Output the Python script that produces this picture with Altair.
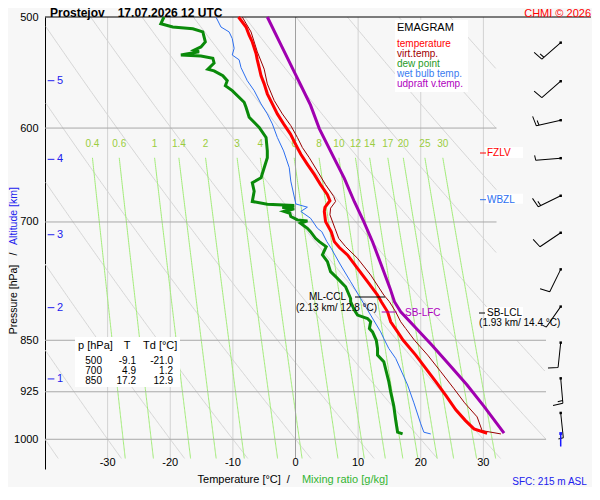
import math
import pandas as pd
import altair as alt

FONT = "Liberation Sans"

# ---------------- sounding data ----------------
temp_p = [500, 508.3, 515.2, 520.9, 530.8, 536.4, 543.3, 550.6, 558.0, 567.2, 576.7, 586.2, 595.9, 605.9, 616.0,
          626.4, 636.8, 647.4, 658.3, 669.3, 676.0, 683.5, 688.0, 699.6, 711.2, 722.9, 730.0, 738.9, 755.3, 772.1,
          789.2, 797.9, 811.2, 824.6, 838.4, 850.0, 870.9, 890.1, 909.8, 930.5, 952.8, 969.4, 983.1, 990.1]
temp_t = [-9.1, -7.9, -7.4, -6.9, -6.3, -6.1, -5.8, -5.5, -5.0, -4.5, -3.7, -2.9, -1.9, -0.8, 0.0,
          0.85, 1.9, 3.0, 4.0, 5.1, 5.5, 4.7, 4.6, 4.8, 5.7, 6.2, 7.0, 8.3, 9.9, 11.5,
          13.1, 13.7, 14.7, 15.2, 16.3, 17.2, 19.2, 20.8, 22.4, 24.0, 25.6, 27.1, 28.5, 30.6]

vtemp_p = [500, 512.4, 529.4, 544.7, 558.0, 573.5, 586.2, 597.6, 609.3, 619.5, 629.9, 643.9, 658.3, 671.2, 676.8,
           684.3, 691.8, 707.3, 719.0, 728.9, 743.0, 763.6, 789.2, 797.9, 811.2, 824.6, 833.8, 850.0, 870.9, 895.0,
           920.3, 941.9, 963.9, 985.9, 991.3]
vtemp_t = [-8.5, -7.1, -6.1, -5.0, -4.5, -3.4, -2.1, -0.75, 0.3, 1.1, 2.2, 3.5, 4.8, 6.1, 6.4,
           5.6, 5.5, 6.3, 6.9, 8.0, 9.9, 12.0, 14.1, 15.0, 16.0, 16.8, 17.6, 19.0, 21.1, 23.2,
           25.3, 27.0, 29.0, 29.8, 32.8]

dew_p = [500, 505.5, 508.3, 509.7, 512.4, 520.9, 525.2, 528.0, 529.4, 532.2, 533.0, 535.0, 539.2, 544.7, 546.2,
         550.6, 555.1, 559.6, 564.2, 575.1, 579.8, 589.4, 599.3, 609.3, 622.9, 629.9, 640.3, 651.0, 656.4, 665.6,
         676.8, 679.8, 681.3, 683.5, 685.0, 688.0, 690.0, 693.8, 697.6, 698.8, 701.5, 707.3, 711.2, 719.0, 722.9,
         728.9, 738.9, 747.1, 759.5, 767.9, 778.5, 793.6, 797.9, 808.9, 815.6, 820.2, 824.6, 833.8, 838.4, 850.0,
         861.6, 870.9, 880.5, 909.8, 925.3, 947.3, 969.4, 988.5, 991.3]
dew_t = [-21.0, -21.5, -19.6, -16.4, -14.8, -14.4, -15.1, -16.2, -15.4, -18.3, -15.1, -13.2, -13.0, -14.0, -13.0,
         -11.6, -10.9, -11.2, -10.1, -8.2, -7.9, -7.4, -5.8, -4.7, -4.5, -4.5, -5.0, -5.5, -6.9, -6.6,
         -6.9, -4.5, -0.2, -2.1, -0.2, -1.8, -0.9, -0.75, 0.3, 1.9, 0.8, 1.9, 2.4, 3.2, 3.8,
         4.9, 4.3, 5.1, 5.6, 6.7, 8.0, 8.8, 8.8, 9.4, 9.9, 11.5, 12.0, 11.8, 12.3, 12.9,
         13.1, 13.1, 14.1, 14.9, 15.2, 15.7, 16.0, 16.3, 17.1]

wet_p = [500, 508.3, 512.4, 518.0, 526.4, 532.2, 536.4, 543.3, 555.1, 564.2, 576.7, 586.2, 595.9, 609.3, 622.9,
         640.3, 654.6, 679.6, 683.2, 688.0, 695.7, 707.3, 711.2, 722.9, 730.9, 751.2, 772.1, 793.6, 815.6, 838.4,
         847.6, 861.6, 875.7, 914.8, 941.9, 975.0, 988.5, 991.3]
wet_t = [-12.7, -11.9, -10.6, -10.1, -9.8, -10.1, -9.0, -8.7, -7.7, -6.6, -5.5, -4.5, -3.7, -2.9, -1.9,
         -1.0, -0.75, 0.05, 1.9, 0.85, 2.4, 3.5, 4.2, 5.0, 5.7, 7.2, 8.8, 10.4, 12.0, 13.6,
         14.1, 14.9, 16.0, 17.9, 18.9, 20.0, 20.5, 21.6]

parcel_p = [500, 523.7, 547.2, 559.3, 577.9, 600.5, 630.8, 651.7, 677.1, 699.7, 723.1, 751.2, 780.6, 797.9,
            811.2, 833.8, 856.9, 885.2, 914.8, 947.3, 990.1]
parcel_t = [-4.5, -2.3, -0.2, 0.85, 2.4, 3.8, 6.2, 7.8, 9.4, 10.9, 12.3, 13.7, 15.1, 15.8,
            16.8, 19.3, 21.8, 24.6, 27.4, 30.1, 33.3]

# wind barbs
wind_p = [521.5, 555.6, 592.3, 630.4, 670.5, 712.5, 756.6, 804.3, 853.3, 904.8, 957.7]
wind_dir = [229, 229, 257, 265, 244, 236, 206, 215, 186, 175, 174]
wind_kind = ["1h", "1", "1h", "2", "1h", "1", "1", "h", "1", "1h", "h"]
sfc_p = [990.6]
sfc_dir = [180]

# altitude scale
alt_km = [1, 2, 3, 4, 5]
alt_p = [905.7, 805.7, 714.8, 631.6, 555.1]

# table
tab_p = [500, 700, 850]
tab_T = [-9.1, 4.9, 17.2]
tab_Td = [-21.0, 1.2, 12.9]

# guides
iso_T = [-30, -20, -10, 10, 20, 30]
isobar_p = [600, 700, 850, 925, 1000]
isobar_end = [32.1, 32.1, 40, 40, 40]
x_ticks = [-30, -20, -10, 0, 10, 20, 30]
mix_w = [0.4, 0.6, 1, 1.4, 2, 3, 4, 6, 8, 10, 12, 14, 17, 20, 25, 30]
mix_lbl = ["0.4", "0.6", "1", "1.4", "2", "3", "4", "6", "8", "10", "12", "14", "17", "20", "25", "30"]
theta = list(range(-40, 130, 10))

# ---------------- helpers ----------------
ONE = pd.DataFrame({"k": [0]})
XS = alt.Scale(domain=[-40, 40], nice=False, zero=False)
YS = alt.Scale(type="log", domain=[500, 1050], reverse=True, nice=False)
YAX = alt.Axis(values=[500, 600, 700, 850, 925, 1000], format="d", ticks=False, labelPadding=7,
               labelFontSize=11, labelFont=FONT, labelColor="black", domainColor="black",
               domainWidth=1, grid=False, title=None, labelFlush=False, labelOverlap=False)


def ex(f="T"):
    return alt.X(f"{f}:Q", scale=XS, axis=None)


def ey(f="p"):
    return alt.Y(f"{f}:Q", scale=YS, axis=YAX)


def seg_df(lines):
    rows = []
    for key, pts in lines:
        seg = 0
        prev = False
        for t, p in pts:
            lim = 32.1 if p < 850 else 40.0
            vis = (-40.05 <= t <= lim)
            if vis:
                if not prev:
                    seg += 1
                rows.append({"T": t, "p": p, "g": f"{key}_{seg}", "i": len(rows)})
            prev = vis
    return pd.DataFrame(rows)


def td_from_w(w, p):
    e = w * p / (622.0 + w)
    a = math.log(e / 6.112)
    return 243.5 * a / (17.67 - a)


def curve(ps, ts, color, width):
    df = pd.DataFrame({"p": ps, "T": ts, "i": list(range(len(ps)))})
    return alt.Chart(df).mark_line(color=color, strokeWidth=width).encode(x=ex(), y=ey(), order="i:Q")


def txt(s, x, y, size=11, color="black", align="left", baseline="middle", weight=None, angle=None):
    kw = dict(font=FONT, fontSize=size, color=color, align=align, baseline=baseline)
    if weight:
        kw["fontWeight"] = weight
    if angle is not None:
        kw["angle"] = angle
    return alt.Chart(ONE).mark_text(**kw).encode(x=alt.value(x), y=alt.value(y), text=alt.value(s))


def rect(x1, x2, y1, y2, color="white"):
    return alt.Chart(ONE).mark_rect(color=color, opacity=1).encode(
        x=alt.value(x1), x2=alt.value(x2), y=alt.value(y1), y2=alt.value(y2))


def hline(x1, x2, y, color, w=1):
    return alt.Chart(ONE).mark_rule(color=color, strokeWidth=w).encode(
        x=alt.value(x1), x2=alt.value(x2), y=alt.value(y))


def barb_path(kind):
    parts = ["M0,0L0,-1"]
    s = 1.0
    for b in kind:
        L = 0.4 if b == "1" else 0.2
        parts.append(f"M0,{-s:.3f}L{L:.3f},{-(s + L * 0.15):.3f}")
        s -= 0.11
    return "".join(parts)


# ---------------- guide layers ----------------
plev = [500 + 2 * k for k in range(267)]
dry_df = seg_df([(f"th{th}", [((th + 273.15) * (p / 1000.0) ** 0.286 - 273.15, p) for p in plev]) for th in theta])
dry = alt.Chart(dry_df).mark_line(color="#d6d6d6", strokeWidth=1).encode(
    x=ex(), y=ey(), detail="g:N", order="i:Q")

mlev = [630 + 2 * k for k in range(202)]
mix_df = seg_df([(f"w{w}", [(td_from_w(w, p), p) for p in mlev]) for w in mix_w])
mix = alt.Chart(mix_df).mark_line(color="#a2ec78", strokeWidth=1).encode(
    x=ex(), y=ey(), detail="g:N", order="i:Q")

iso = alt.Chart(pd.DataFrame({"T": iso_T, "p": [500] * len(iso_T), "p2": [1032] * len(iso_T)})).mark_rule(
    color="#d2d2d2", strokeWidth=1).encode(x=ex(), y=ey(), y2="p2:Q")
iso0 = alt.Chart(pd.DataFrame({"T": [0], "p": [500], "p2": [1032]})).mark_rule(
    color="#a0a0a0", strokeWidth=1).encode(x=ex(), y=ey(), y2="p2:Q")
isob = alt.Chart(pd.DataFrame({"p": isobar_p, "T": [-40] * len(isobar_p), "T2": isobar_end})).mark_rule(
    color="#a8a8a8", strokeWidth=1).encode(y=ey(), x=ex(), x2="T2:Q")
top = alt.Chart(pd.DataFrame({"p": [500]})).mark_rule(color="black", strokeWidth=1).encode(
    y=ey(), x=alt.value(0), x2=alt.value(546))

mixlab = alt.Chart(pd.DataFrame({"T": [td_from_w(w, 630) for w in mix_w], "p": [616] * len(mix_w),
                                 "txt": mix_lbl})).mark_text(
    font=FONT, fontSize=10, color="#9acd40").encode(x=ex(), y=ey(), text="txt:N")
xlab = alt.Chart(pd.DataFrame({"T": x_ticks, "p": [1040] * len(x_ticks), "txt": [str(v) for v in x_ticks]})).mark_text(
    font=FONT, fontSize=11, color="black").encode(x=ex(), y=ey(), text="txt:N")

altdash = alt.Chart(pd.DataFrame({"p": alt_p, "T1": [-39.57] * 5, "T2": [-38.5] * 5})).mark_rule(
    color="#2020ee", strokeWidth=1).encode(x=ex("T1"), x2="T2:Q", y=ey())
alttxt = alt.Chart(pd.DataFrame({"p": alt_p, "T": [-38.1] * 5, "txt": [str(v) for v in alt_km]})).mark_text(
    font=FONT, fontSize=11, color="#2020ee", align="left").encode(x=ex(), y=ey(), text="txt:N")

layers = [dry, iso, mix, isob, iso0, top, mixlab, xlab, altdash, alttxt]

# boxes
layers += [rect(350, 423, 3, 75), rect(30, 135, 320, 370),
           rect(440, 478, 130, 141), rect(440, 478, 176.7, 186.7), rect(440, 478, 290, 301)]

# sounding curves
layers += [
    curve(wet_p, wet_t, "#2c6ff0", 1),
    curve(dew_p, dew_t, "#0a8a0a", 3),
    curve(vtemp_p, vtemp_t, "#990000", 1),
    curve(temp_p, temp_t, "#ff0000", 3),
    curve(parcel_p, parcel_t, "#a000b0", 3),
]

# wind barbs
wind_df = pd.DataFrame({"p": wind_p, "dir": wind_dir, "shape": [barb_path(k) for k in wind_kind]})
barbs = alt.Chart(wind_df).mark_point(filled=False, color="black", strokeWidth=1, opacity=1, size=2500).encode(
    x=alt.value(515.7), y=ey(), shape=alt.Shape("shape:N", scale=None), angle=alt.Angle("dir:Q", scale=None))
dots = alt.Chart(wind_df).mark_square(size=6, color="black", opacity=1).encode(x=alt.value(515.7), y=ey())
sfc_df = pd.DataFrame({"p": sfc_p, "dir": sfc_dir})
sfc = alt.Chart(sfc_df).mark_point(filled=False, color="#1a1aff", strokeWidth=1.5, opacity=1, size=676).encode(
    x=alt.value(515.7), y=ey(), shape=alt.value("M0,0L0,-1"), angle=alt.Angle("dir:Q", scale=None))
sfcdot = alt.Chart(sfc_df).mark_square(size=8, color="#1a1aff", opacity=1).encode(x=alt.value(515.7), y=ey())
layers += [barbs, dots, sfc, sfcdot]

# legend
layers.append(txt("EMAGRAM", 352, 11, 11))
for label, col, yy in [("temperature", "#ff0000", 27.3), ("virt.temp.", "#a00000", 36.7),
                       ("dew point", "#1f9a1f", 46.7), ("wet bulb temp.", "#3a7bf0", 56.7),
                       ("udpraft v.temp.", "#b000c0", 66.7)]:
    layers.append(txt(label, 352, yy, 10, col))

# table
layers += [txt("p [hPa]", 33, 329, 11), txt("T", 82, 329, 11, align="center"), txt("Td [°C]", 98, 329, 11)]
for k in range(3):
    yy = 343.7 + 10 * k
    layers += [txt(str(tab_p[k]), 57, yy, 10, align="right"),
               txt(f"{tab_T[k]:.1f}", 91, yy, 10, align="right"),
               txt(f"{tab_Td[k]:.1f}", 128, yy, 10, align="right")]

# level annotations
layers += [
    hline(435, 441, 136, "red"), txt("FZLV", 442, 136, 10, "red"),
    hline(435, 441, 182.7, "#2c6ff0"), txt("WBZL", 442, 182.7, 10, "#2c6ff0"),
    hline(434, 440, 296, "black"), txt("SB-LCL", 442, 296, 10),
    txt("(1.93 km/ 14.4 °C)", 474.7, 306, 10, align="center"),
    hline(310, 340, 280, "black"),
    txt("ML-CCL", 282.5, 280, 10, align="center"),
    txt("(2.13 km/ 12.8 °C)", 291.5, 291, 10, align="center"),
    hline(336.7, 351.7, 295, "#a000b0"), txt("SB-LFC", 360, 296, 10, "#b000c0"),
]

# titles
layers += [
    txt("Prostejov", 5, -0.2, 12, baseline="alphabetic", weight="bold"),
    txt("17.07.2026 12 UTC", 72.7, -0.2, 12, baseline="alphabetic", weight="bold"),
    txt("CHMI © 2026", 546, -0.2, 11, "red", align="right", baseline="alphabetic"),
    txt("Altitude [km]", -31, 199, 10.5, "#2020ee", align="center", angle=270),
    txt("/", -31, 237, 10.5, align="center", angle=270),
    txt("Pressure [hPa]", -31, 282.5, 10.5, align="center", angle=270),
    txt("Temperature [°C]", 194.2, 462.5, 11, align="center"),
    txt("/", 243.3, 462.5, 11, align="center"),
    txt("Mixing ratio [g/kg]", 300, 462.5, 11, "#33b533", align="center"),
    txt("SFC: 215 m ASL", 467.3, 464.7, 10, "#2020ee"),
]

chart = alt.layer(*layers).properties(
    width=501, height=452,
    autosize=alt.AutoSizeParams(type="none"),
    padding={"left": 37, "top": 9, "right": 46, "bottom": 18},
    background="#f7f7f7",
).configure_view(strokeWidth=0)

chart.save("out.html", embed_options={"renderer": "svg", "actions": False})
